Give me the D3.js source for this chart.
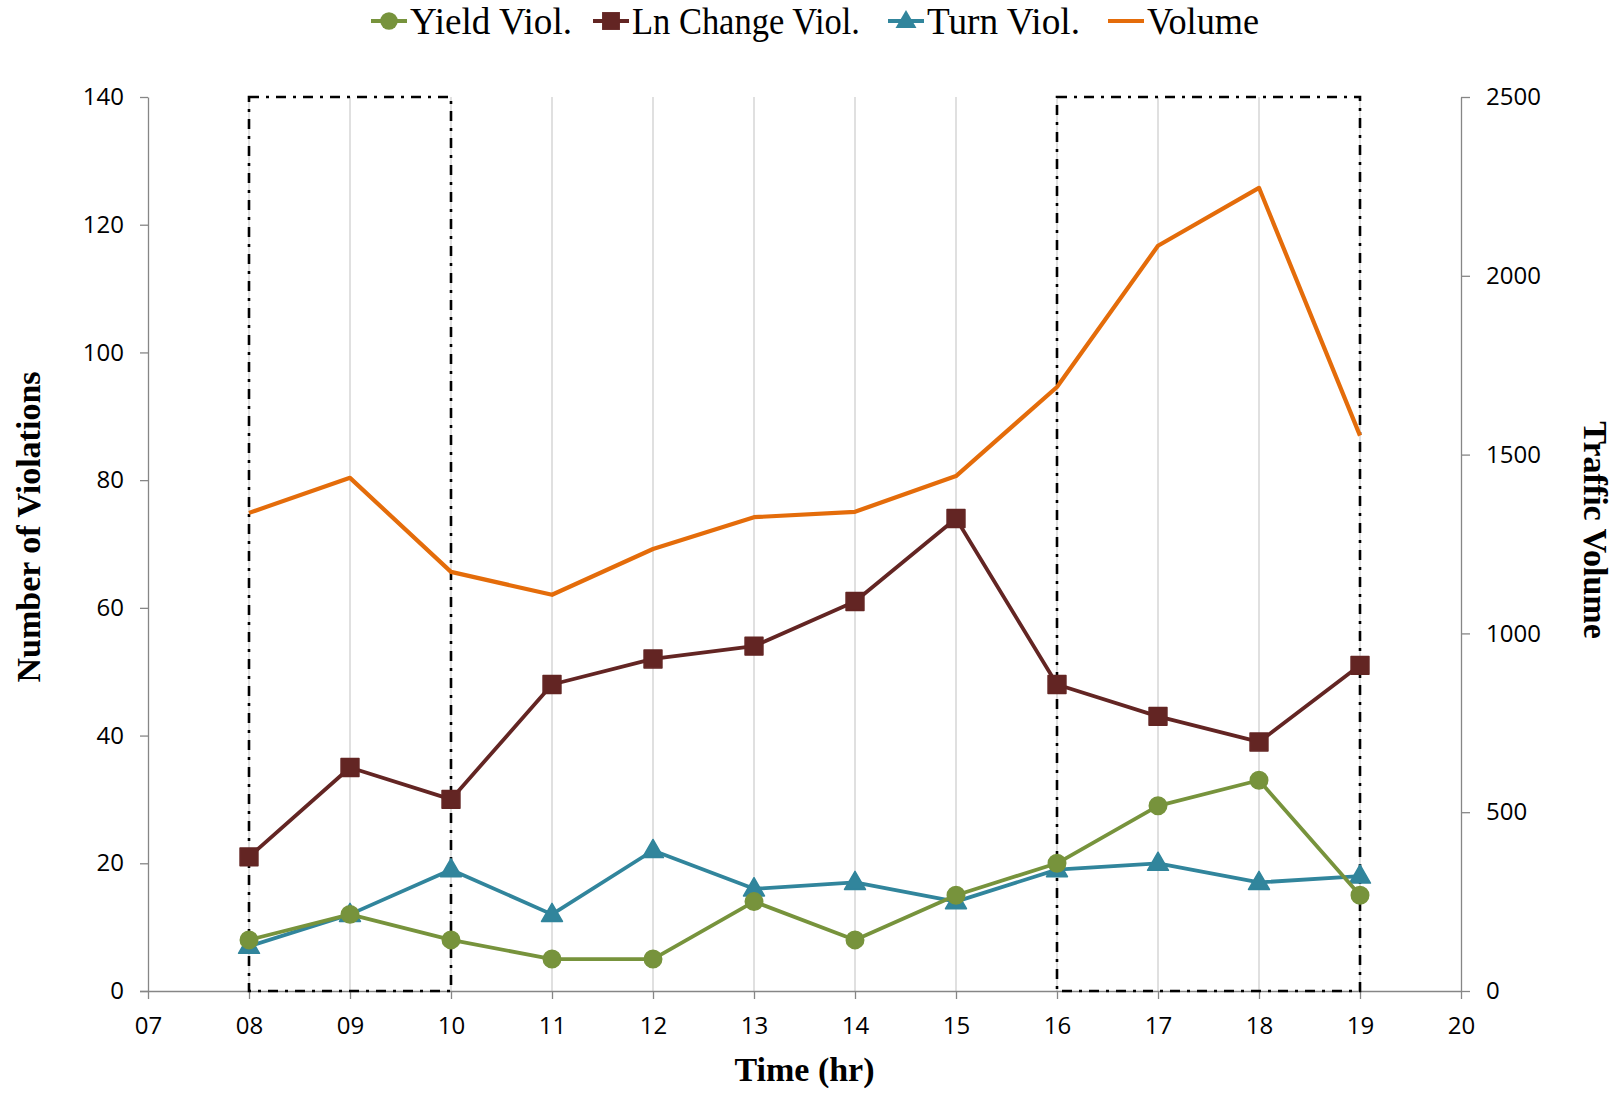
<!DOCTYPE html>
<html>
<head>
<meta charset="utf-8">
<title>Violations and traffic volume by hour</title>
<script src="https://cdnjs.cloudflare.com/ajax/libs/d3/7.8.5/d3.min.js"></script>
<style>
body { margin: 0; background: #fff; }
.tick text { font: 24px "Open Sans", sans-serif; fill: #000; }
.axis path, .axis line { stroke: #868686; stroke-width: 1.3; }
.title { font: bold 34px "Liberation Serif", serif; fill: #000; }
.legend text { font: 38px "Liberation Serif", serif; fill: #000; }
</style>
</head>
<body>
<script>
var hours = [8, 9, 10, 11, 12, 13, 14, 15, 16, 17, 18, 19];
var yieldViol = [8, 12, 8, 5, 5, 14, 8, 15, 20, 29, 33, 15];
var lnChangeViol = [21, 35, 30, 48, 52, 54, 61, 74, 48, 43, 39, 51];
var turnViol = [7, 12, 19, 12, 22, 16, 17, 14, 19, 20, 17, 18];
var volume = [1337, 1435, 1172, 1108, 1236, 1325, 1340, 1440, 1689, 2084, 2246, 1553];
var peakWindows = [[8, 10], [16, 19]];

var width = 1616, height = 1094;
var margin = {top: 97, right: 155, bottom: 103, left: 148};
var w = width - margin.left - margin.right,
    h = height - margin.top - margin.bottom;

var svg = d3.select("body").append("svg")
    .attr("width", width)
    .attr("height", height);
var g = svg.append("g")
    .attr("transform", "translate(" + margin.left + "," + margin.top + ")");

var x = d3.scaleLinear().domain([7, 20]).range([0, w]);
var yL = d3.scaleLinear().domain([0, 140]).range([h, 0]);
var yR = d3.scaleLinear().domain([0, 2500]).range([h, 0]);

// vertical gridlines
g.selectAll(".grid")
    .data(hours)
  .enter().append("line")
    .attr("x1", x).attr("x2", x)
    .attr("y1", 0).attr("y2", h)
    .attr("stroke", "#d9d9d9")
    .attr("stroke-width", 1.6);

// axes
var xAxis = g.append("g")
    .attr("class", "axis")
    .attr("transform", "translate(0," + h + ")")
    .call(d3.axisBottom(x).tickValues(d3.range(7, 21)).tickFormat(d3.format("02d")).tickSize(8).tickSizeOuter(0).tickPadding(18));
xAxis.select(".domain").attr("d", "M-8,0.5H" + w);

g.append("g")
    .attr("class", "axis")
    .call(d3.axisLeft(yL).tickValues(d3.range(0, 141, 20)).tickSize(8).tickSizeOuter(0).tickPadding(16));

g.append("g")
    .attr("class", "axis")
    .attr("transform", "translate(" + w + ",0)")
    .call(d3.axisRight(yR).tickValues(d3.range(0, 2501, 500)).tickFormat(d3.format("d")).tickSize(9).tickSizeOuter(0).tickPadding(16));

// dash-dot peak windows
g.selectAll(".peak")
    .data(peakWindows)
  .enter().append("rect")
    .attr("x", function(d) { return x(d[0]); })
    .attr("width", function(d) { return x(d[1]) - x(d[0]); })
    .attr("y", yL(140))
    .attr("height", yL(0) - yL(140))
    .attr("fill", "none")
    .attr("stroke", "#000")
    .attr("stroke-width", 2.6)
    .attr("stroke-dasharray", "10,7,3,7");

var series = [
  {name: "Yield Viol.", values: yieldViol, color: "#77933c", shape: "circle", scale: yL},
  {name: "Ln Change Viol.", values: lnChangeViol, color: "#632523", shape: "square", scale: yL},
  {name: "Turn Viol.", values: turnViol, color: "#31859c", shape: "triangle", scale: yL},
  {name: "Volume", values: volume, color: "#e46c0a", shape: null, scale: yR}
];

var symbols = {
  circle: d3.symbol().type(d3.symbolCircle).size(240),
  square: d3.symbol().type(d3.symbolSquare).size(320),
  triangle: d3.symbol().type(d3.symbolTriangle).size(190)
};

// draw in Excel order: volume, then ln change, turn, yield on top
[3, 1, 2, 0].forEach(function(i) {
  var s = series[i];
  var line = d3.line()
      .x(function(d, j) { return x(hours[j]); })
      .y(function(d) { return s.scale(d); });
  g.append("path")
      .datum(s.values)
      .attr("d", line)
      .attr("fill", "none")
      .attr("stroke", s.color)
      .attr("stroke-width", s.shape ? 3.8 : 4.2)
      .attr("stroke-linejoin", "round");
  if (s.shape) {
    g.selectAll(".m" + i)
        .data(s.values)
      .enter().append("path")
        .attr("d", symbols[s.shape])
        .attr("transform", function(d, j) {
          return "translate(" + x(hours[j]) + "," + (s.scale(d) + (s.shape == "triangle" ? 1 : 0)) + ")";
        })
        .attr("fill", s.color)
        .attr("stroke", s.color)
        .attr("stroke-width", 1.5)
        .attr("stroke-linejoin", "round");
  }
});

// axis titles
svg.append("text")
    .attr("class", "title")
    .attr("x", margin.left + x(13.5))
    .attr("y", 1081)
    .attr("text-anchor", "middle")
    .text("Time (hr)");

svg.append("text")
    .attr("class", "title")
    .attr("transform", "translate(40," + 527 + ") rotate(-90)")
    .attr("text-anchor", "middle")
    .text("Number of Violations");

svg.append("text")
    .attr("class", "title")
    .attr("transform", "translate(1584," + 530 + ") rotate(90)")
    .attr("text-anchor", "middle")
    .text("Traffic Volume");

// legend
var legendX = [371, 593, 888, 1108];
var legend = svg.selectAll(".legend")
    .data(series)
  .enter().append("g")
    .attr("class", "legend")
    .attr("transform", function(d, i) { return "translate(" + legendX[i] + ",21)"; });

legend.append("line")
    .attr("x1", 0).attr("x2", 36)
    .attr("stroke", function(d) { return d.color; })
    .attr("stroke-width", function(d) { return d.shape ? 3.8 : 4.2; });

legend.filter(function(d) { return d.shape; }).append("path")
    .attr("d", function(d) { return symbols[d.shape](); })
    .attr("transform", function(d) { return "translate(18," + (d.shape == "triangle" ? 1 : 0) + ")"; })
    .attr("fill", function(d) { return d.color; });

legend.append("text")
    .attr("x", 39)
    .attr("y", 13)
    .attr("textLength", function(d, i) { return [162, 228, 153, 112][i]; })
    .attr("lengthAdjust", "spacingAndGlyphs")
    .text(function(d) { return d.name; });
</script>
</body>
</html>
